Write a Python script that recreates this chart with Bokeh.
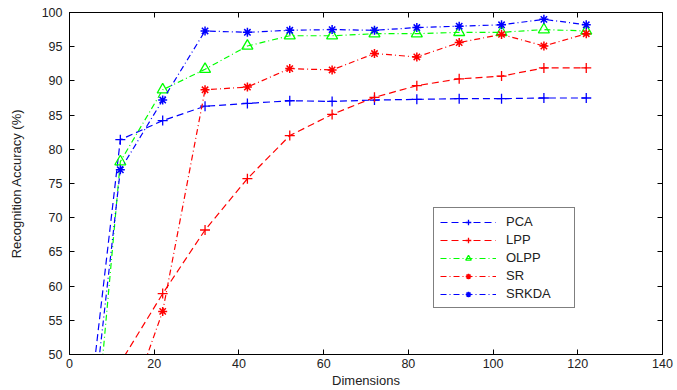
from bokeh.plotting import figure
from bokeh.models import Range1d, LinearAxis, Legend, LegendItem, FixedTicker
from bokeh.embed import file_html
from bokeh.resources import INLINE

# Reduced dimensionality vs. recognition accuracy (%)
dims = [2, 12, 22, 32, 42, 52, 62, 72, 82, 92, 102, 112, 122]
pca = [28.0, 81.4, 84.2, 86.3, 86.7, 87.1, 87.0, 87.2, 87.3, 87.4, 87.4, 87.5, 87.5]
lpp = [30.0, 48.8, 58.9, 68.2, 75.7, 82.0, 85.1, 87.6, 89.3, 90.3, 90.7, 91.9, 91.9]
olpp = [9.5, 78.2, 88.7, 91.7, 95.1, 96.6, 96.6, 96.9, 96.9, 97.1, 97.1, 97.5, 97.3]
sr = [20.0, 38.8, 56.3, 88.7, 89.1, 91.8, 91.6, 94.0, 93.5, 95.6, 96.8, 95.1, 96.9]
srkda = [22.0, 77.0, 87.2, 97.3, 97.1, 97.4, 97.5, 97.4, 97.8, 98.0, 98.2, 99.0, 98.2]

x_ticks = [0, 20, 40, 60, 80, 100, 120, 140]
y_ticks = [50, 55, 60, 65, 70, 75, 80, 85, 90, 95, 100]

FONT = "Liberation Sans"
BLUE, RED, GREEN = "#0000ff", "#ff0000", "#00ff00"
DASH = "7 4"
DASHDOT = "6 3 1 3"
TEXT = "#222222"

p = figure(width=677, height=390, output_backend="svg", toolbar_location=None,
           x_range=Range1d(0, 140), y_range=Range1d(50, 100),
           min_border_left=69, min_border_right=15, min_border_top=12, min_border_bottom=33)
p.xgrid.visible = False
p.ygrid.visible = False
p.outline_line_color = "black"
p.outline_line_width = 1
p.background_fill_color = "white"
p.border_fill_color = "white"

def style_axis(ax, labels=True):
    ax.axis_line_color = "black"
    ax.major_tick_in = 5
    ax.major_tick_out = 0
    ax.minor_tick_line_color = None
    ax.major_tick_line_color = "black"
    ax.major_label_text_font = FONT
    ax.major_label_text_font_size = "12.5px"
    ax.major_label_text_color = TEXT if labels else None
    ax.axis_label_text_font = FONT
    ax.axis_label_text_font_style = "normal"
    ax.axis_label_text_color = TEXT

xa = p.xaxis[0]
ya = p.yaxis[0]
xa.ticker = FixedTicker(ticks=x_ticks)
ya.ticker = FixedTicker(ticks=y_ticks)
style_axis(xa)
style_axis(ya)
xa.major_label_standoff = 4
ya.major_label_standoff = 7
xa.axis_label = "Dimensions"
xa.axis_label_text_font_size = "13px"
xa.axis_label_standoff = 2
ya.axis_label = "Recognition Accuracy (%)"
ya.axis_label_text_font_size = "13px"
ya.axis_label_standoff = 15

# frame ticks on the top and right edges, without labels
top = LinearAxis(ticker=FixedTicker(ticks=x_ticks))
style_axis(top, labels=False)
top.major_label_standoff = 0
right = LinearAxis(ticker=FixedTicker(ticks=y_ticks))
style_axis(right, labels=False)
right.major_label_standoff = 0
p.add_layout(top, "above")
p.add_layout(right, "right")

series = [
    ("PCA", pca, BLUE, DASH, "cross"),
    ("LPP", lpp, RED, DASH, "cross"),
    ("OLPP", olpp, GREEN, DASHDOT, "triangle"),
    ("SR", sr, RED, DASHDOT, "asterisk"),
    ("SRKDA", srkda, BLUE, DASHDOT, "asterisk"),
]

items = []
for name, vals, color, dash, marker in series:
    ln = p.line(dims, vals, line_color=color, line_width=1.2, line_dash=dash)
    if marker == "triangle":
        mk = p.scatter(dims, vals, marker="triangle", fill_color=None, size=11,
                       line_color=color, line_width=1.3)
    elif marker == "asterisk":
        mk = p.scatter(dims, vals, marker="asterisk", size=9, line_color=color, line_width=1.5)
    else:
        mk = p.scatter(dims, vals, marker="cross", size=10, line_color=color, line_width=1.3)
    items.append(LegendItem(label=name, renderers=[ln, mk]))

legend = Legend(items=items, location=(364, 46))
legend.label_text_font = FONT
legend.label_text_font_size = "13px"
legend.label_text_color = TEXT
legend.glyph_width = 56
legend.glyph_height = 14
legend.label_height = 14
legend.label_width = 62
legend.spacing = 3
legend.padding = 6
legend.label_standoff = 10
legend.margin = 0
legend.border_line_color = "black"
legend.border_line_width = 1
legend.background_fill_alpha = 1
p.add_layout(legend)

open("out.html", "w").write(file_html(p, INLINE))
